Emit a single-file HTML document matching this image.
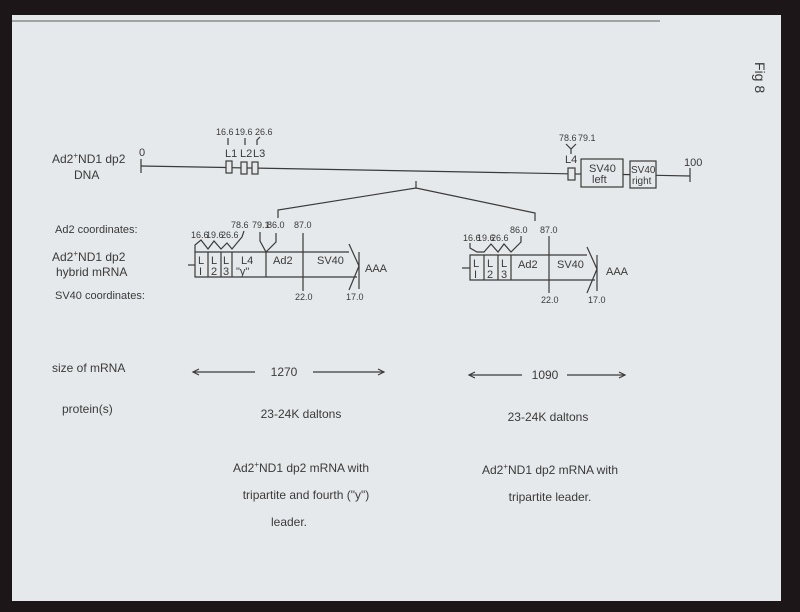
<!DOCTYPE html>
<html><head><meta charset="utf-8"><style>
html,body{margin:0;padding:0;background:#1c1618;}
svg{display:block}
text{font-family:"Liberation Sans",sans-serif;fill:#3a3a3a;}
</style></head><body>
<svg width="800" height="612" viewBox="0 0 800 612" xmlns="http://www.w3.org/2000/svg">
<rect x="0" y="0" width="800" height="612" fill="#1c1618"/>
<rect x="12" y="15" width="769" height="586" fill="#e6e9ec"/>
<line x1="12" y1="21" x2="660" y2="21" stroke="#8a8a8a" stroke-width="1.5"/>
<text x="755" y="62" font-size="14" transform="rotate(90 755 62)">Fig 8</text>

<g stroke="#3a3a3a" stroke-width="1.2" fill="none">
<!-- DNA line -->
<line x1="141" y1="166" x2="226" y2="167.5"/>
<line x1="141" y1="159" x2="141" y2="173"/>
<line x1="232" y1="167.7" x2="241" y2="167.9"/>
<line x1="247" y1="168" x2="252" y2="168"/>
<line x1="258" y1="168.1" x2="568" y2="173.8"/>
<line x1="575" y1="174" x2="581" y2="174"/>
<line x1="623" y1="174.5" x2="630" y2="174.6"/>
<line x1="656" y1="175.3" x2="690" y2="176"/>
<line x1="690" y1="168" x2="690" y2="182"/>
<rect x="226" y="161" width="6" height="12"/>
<rect x="241" y="162" width="6" height="12"/>
<rect x="252" y="162" width="6" height="12"/>
<rect x="568" y="168" width="7" height="12"/>
<rect x="581" y="159" width="42" height="28"/>
<rect x="630" y="161" width="26" height="27"/>
<line x1="228" y1="138" x2="228" y2="145"/>
<line x1="245" y1="138" x2="245" y2="145"/>
<path d="M257 145 L257 140 L260 137"/>
<path d="M566 144 L571 149 L576 144 M571 149 L571 154"/>
<!-- zoom lines -->
<line x1="416" y1="181" x2="416" y2="188"/>
<polyline points="278,218 278,210 416,188 535,213 535,221"/>
<!-- left mRNA -->
<line x1="188" y1="265" x2="195" y2="265"/>
<polyline points="349,252 195,252 195,277 357,277"/>
<polyline points="349,244 359,266 349,290"/>
<line x1="359" y1="252" x2="359" y2="289"/>
<line x1="208" y1="252" x2="208" y2="277"/>
<line x1="221" y1="252" x2="221" y2="277"/>
<line x1="232" y1="252" x2="232" y2="277"/>
<line x1="266" y1="252" x2="266" y2="277"/>
<line x1="303" y1="233" x2="303" y2="291"/>
<polyline points="195,252 195,245 201,240 208,249 214,241 221,249 227,243 232,249 242,237 244,231"/>
<path d="M260 232 L260 241 L266 252 L276 242 L276 233"/>
<!-- right mRNA -->
<line x1="462" y1="268" x2="470" y2="268"/>
<polyline points="587,255 470,255 470,280 595,280"/>
<polyline points="587,247 597,269 587,293"/>
<line x1="597" y1="255" x2="597" y2="291"/>
<line x1="484" y1="255" x2="484" y2="280"/>
<line x1="498" y1="255" x2="498" y2="280"/>
<line x1="511" y1="255" x2="511" y2="280"/>
<line x1="549" y1="236" x2="549" y2="293"/>
<polyline points="470,243 470,248 477,252 484,252 491,244 498,252 504,244 511,252 521,242 521,236"/>
<!-- arrows -->
<line x1="193" y1="372" x2="255" y2="372"/>
<line x1="313" y1="372" x2="384" y2="372"/>
<path d="M199 369 L193 372 L199 375 M378 369 L384 372 L378 375"/>
<line x1="469" y1="375" x2="522" y2="375"/>
<line x1="567" y1="375" x2="625" y2="375"/>
<path d="M475 372 L469 375 L475 378 M619 372 L625 375 L619 378"/>
</g>

<g font-size="9">
<text x="216" y="135">16.6</text><text x="235" y="135">19.6</text><text x="255" y="135">26.6</text>
<text x="559" y="141">78.6</text><text x="578" y="141">79.1</text>
<text x="191" y="238">16.6</text><text x="206" y="238">19.6</text><text x="221" y="238">26.6</text>
<text x="231" y="228">78.6</text><text x="252" y="228">79.1</text><text x="267" y="228">86.0</text><text x="294" y="228">87.0</text>
<text x="463" y="241">16.6</text><text x="477" y="241">19.6</text><text x="491" y="241">26.6</text>
<text x="510" y="233">86.0</text><text x="540" y="233">87.0</text>
<text x="295" y="300">22.0</text><text x="346" y="300">17.0</text>
<text x="541" y="303">22.0</text><text x="588" y="303">17.0</text>
</g>
<g font-size="11">
<text x="139" y="156">0</text>
<text x="225" y="157">L1</text><text x="240" y="157">L2</text><text x="253" y="157">L3</text>
<text x="565" y="163">L4</text>
<text x="589" y="172">SV40</text><text x="592" y="183">left</text>
<text x="631" y="173" font-size="10">SV40</text><text x="632" y="184" font-size="10">right</text>
<text x="684" y="166">100</text>
<text x="52" y="163" font-size="12">Ad2<tspan font-size="8" dy="-5">+</tspan><tspan dy="5">ND1 dp2</tspan></text>
<text x="74" y="179" font-size="12">DNA</text>
<text x="55" y="233">Ad2 coordinates:</text>
<text x="52" y="261" font-size="12">Ad2<tspan font-size="8" dy="-5">+</tspan><tspan dy="5">ND1 dp2</tspan></text>
<text x="56" y="276" font-size="12">hybrid mRNA</text>
<text x="55" y="299">SV40 coordinates:</text>
<text x="198" y="264">L</text><text x="199" y="275">I</text>
<text x="211" y="264">L</text><text x="211" y="275">2</text>
<text x="223" y="264">L</text><text x="223" y="275">3</text>
<text x="241" y="264">L4</text><text x="236" y="275">"y"</text>
<text x="273" y="264">Ad2</text><text x="317" y="264">SV40</text>
<text x="365" y="272">AAA</text>
<text x="473" y="267">L</text><text x="474" y="278">I</text>
<text x="487" y="267">L</text><text x="487" y="278">2</text>
<text x="501" y="267">L</text><text x="501" y="278">3</text>
<text x="518" y="268">Ad2</text><text x="557" y="268">SV40</text>
<text x="606" y="275">AAA</text>
</g>
<g font-size="12">
<text x="52" y="372">size of mRNA</text>
<text x="284" y="376" text-anchor="middle">1270</text>
<text x="545" y="379" text-anchor="middle">1090</text>
<text x="62" y="413">protein(s)</text>
<text x="301" y="418" text-anchor="middle">23-24K daltons</text>
<text x="548" y="421" text-anchor="middle">23-24K daltons</text>
<text x="301" y="472" text-anchor="middle">Ad2<tspan font-size="8" dy="-5">+</tspan><tspan dy="5">ND1 dp2 mRNA with</tspan></text>
<text x="306" y="499" text-anchor="middle">tripartite and fourth ("y")</text>
<text x="289" y="526" text-anchor="middle">leader.</text>
<text x="550" y="474" text-anchor="middle">Ad2<tspan font-size="8" dy="-5">+</tspan><tspan dy="5">ND1 dp2 mRNA with</tspan></text>
<text x="550" y="501" text-anchor="middle">tripartite leader.</text>
</g>
</svg>
</body></html>
